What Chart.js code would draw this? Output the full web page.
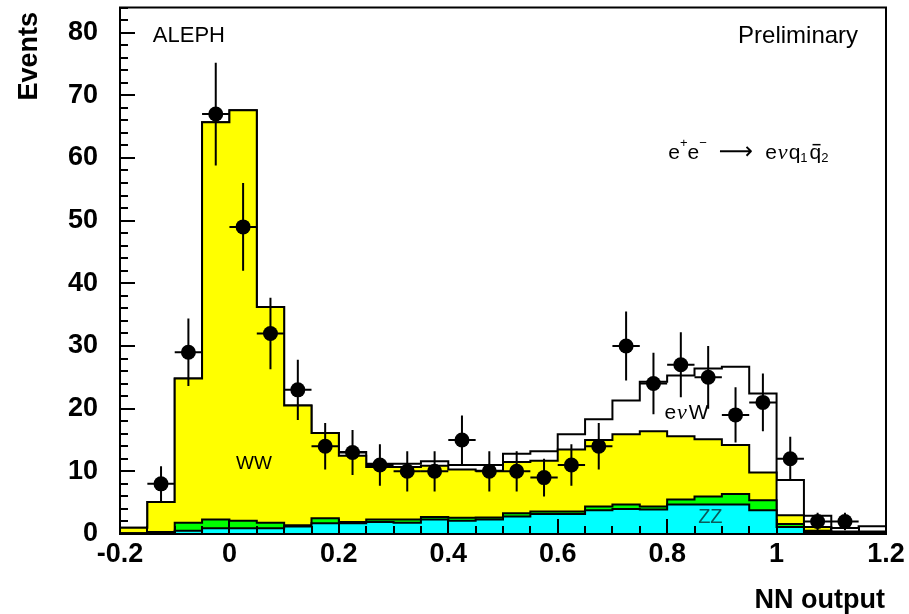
<!DOCTYPE html>
<html><head><meta charset="utf-8">
<script src="https://cdn.jsdelivr.net/npm/chart.js@4/dist/chart.umd.min.js"></script>
<style>html,body{margin:0;padding:0;background:#fff}#wrap{width:909px;height:614px;position:relative}</style>
</head><body><div id="wrap"><canvas id="c"></canvas></div>
<script>
// bin edges of the NN output histogram
const binEdges = [-0.2,-0.15,-0.1,-0.05,0,0.05,0.1,0.15,0.2,0.25,0.3,0.35,0.4,0.45,0.5,0.55,0.6,0.65,0.7,0.75,0.8,0.85,0.9,0.95,1.0,1.05,1.1,1.15,1.2];
// stacked Monte Carlo contributions per bin
const zz    = [0.1,0.2,0.5,0.9,0.9,0.9,1.2,1.7,1.7,1.9,1.8,2.3,2.1,2.3,2.8,3.2,3.2,3.8,4.0,3.9,4.7,4.7,4.7,3.8,1.1,0.3,0.1,0.1];
const other = [0.0,0.1,1.3,1.4,1.2,0.9,0.2,0.8,0.2,0.4,0.5,0.4,0.5,0.35,0.5,0.4,0.4,0.6,0.7,0.5,0.8,1.3,1.7,1.6,0.5,0.2,0.1,0.1];
const ww    = [0.9,4.8,23.0,63.4,65.5,34.4,19.1,13.6,10.6,8.4,8.4,8.2,7.7,7.45,8.2,8.1,9.9,10.6,11.2,12.0,10.1,9.1,7.8,4.4,1.4,0.6,0.2,0.2];
const evw   = [0,0,0,0,0,0,0,0,0.6,0.5,0.5,0.7,0.7,0.9,1.3,1.5,2.4,3.3,5.4,7.9,9.7,11.3,12.5,12.6,5.6,1.8,0.55,0.85];
// data
const dataCounts = [null,8,29,67,49,32,23,14,13,11,10,10,15,10,10,9,11,14,30,24,27,25,19,21,12,2,2,null];
const dataErrors = [null,2.8,5.4,8.2,7.0,5.7,4.8,3.7,3.6,3.3,3.2,3.2,3.9,3.2,3.2,3.0,3.3,3.7,5.5,4.9,5.2,5.0,4.4,4.6,3.5,1.4,1.4,null];
const xTickLabels = ['-0.2','0','0.2','0.4','0.6','0.8','1','1.2'];
const yTickLabels = ['0','10','20','30','40','50','60','70','80'];

function cumulative(layers){
  return binEdges.slice(0,-1).map((_,i)=>layers.reduce((s,a)=>s+a[i],0));
}
function stepPoints(vals){
  const pts = vals.map((v,i)=>({x:binEdges[i], y:v}));
  pts.push({x:binEdges[binEdges.length-1], y:vals[vals.length-1]});
  return pts;
}
const cZZ = cumulative([zz]);
const cOther = cumulative([zz,other]);
const cWW = cumulative([zz,other,ww]);
const cTot = cumulative([zz,other,ww,evw]);
const centers = binEdges.slice(0,-1).map((e,i)=>(e+binEdges[i+1])/2);
const dataPts = centers.map((x,i)=>dataCounts[i]==null?null:{x:x,y:dataCounts[i]}).filter(p=>p);

function layer(label, vals, color, order){
  return {type:'line', label, data:stepPoints(vals), stepped:'before', fill:'origin',
    backgroundColor:color, borderColor:'#000', borderWidth:2, pointRadius:0, order};
}

const FONT = '"Liberation Sans", Arial, Helvetica, sans-serif';

const decor = {
  id:'decor',
  afterDatasetsDraw(chart){
    const {ctx, chartArea:a, scales:{x,y}} = chart;
    ctx.save();
    // error bars
    ctx.strokeStyle='#000'; ctx.lineWidth=2;
    for(let i=0;i<dataCounts.length;i++){
      const n=dataCounts[i]; if(n==null) continue;
      const px=x.getPixelForValue(centers[i]);
      ctx.beginPath();
      ctx.moveTo(px,y.getPixelForValue(n-dataErrors[i]));
      ctx.lineTo(px,y.getPixelForValue(n+dataErrors[i]));
      ctx.moveTo(x.getPixelForValue(binEdges[i]),y.getPixelForValue(n));
      ctx.lineTo(x.getPixelForValue(binEdges[i+1]),y.getPixelForValue(n));
      ctx.stroke();
    }
    // inward ticks
    ctx.lineWidth=2;
    ctx.beginPath();
    for(let k=0;k<=42;k++){
      const v=k*2; const py=Math.round(y.getPixelForValue(v));
      const len = (v%10===0)?15:8;
      ctx.moveTo(a.left,py); ctx.lineTo(a.left+len,py);
    }
    for(let k=0;k<=28;k++){
      const v=-0.2+k*0.05; const px=Math.round(x.getPixelForValue(v));
      const len=(k%4===0)?15:8;
      ctx.moveTo(px,a.bottom); ctx.lineTo(px,a.bottom-len);
    }
    ctx.stroke();
    // frame
    ctx.strokeRect(a.left,a.top,a.right-a.left,a.bottom-a.top);
    // texts
    ctx.fillStyle='#000';
    ctx.textBaseline='middle';
    ctx.font='22px '+FONT;
    ctx.textAlign='left';
    ctx.fillText('ALEPH', x.getPixelForValue(-0.14), y.getPixelForValue(79.4));
    ctx.textAlign='right';
    ctx.font='24px '+FONT;
    ctx.fillText('Preliminary', x.getPixelForValue(1.149), y.getPixelForValue(79.4));
    ctx.textAlign='center';
    ctx.font='19px '+FONT;
    ctx.fillText('WW', x.getPixelForValue(0.045), y.getPixelForValue(11.2));
    // e nu W
    {
      let px=x.getPixelForValue(0.795), py=y.getPixelForValue(19.3);
      ctx.textAlign='left';
      ctx.font='21px '+FONT; ctx.fillText('e',px,py); px+=ctx.measureText('e').width+1;
      ctx.font='italic 22px "Liberation Serif", serif'; ctx.fillText('ν',px,py); px+=ctx.measureText('ν').width+2;
      ctx.font='21px '+FONT; ctx.fillText('W',px,py);
    }
    ctx.fillStyle='#0b5a5a';
    ctx.textAlign='center';
    ctx.font='20px '+FONT;
    ctx.fillText('ZZ', x.getPixelForValue(0.879), y.getPixelForValue(2.7));
    // reaction formula
    ctx.fillStyle='#000';
    {
      let px=x.getPixelForValue(0.802), py=y.getPixelForValue(60.8);
      ctx.textAlign='left';
      const big='21px '+FONT, small='13px '+FONT;
      const put=(t,f,dy,gap)=>{ctx.font=f; ctx.fillText(t,px,py+dy); px+=ctx.measureText(t).width+(gap||0);};
      put('e',big,0); put('+',small,-9);
      put('e',big,0); put('−',small,-9,12);
      ctx.font='24px "DejaVu Sans", sans-serif'; ctx.fillText('⟶',px,py); px+=ctx.measureText('⟶').width+12;
      put('e',big,0,1);
      put('ν','italic 22px "Liberation Serif", serif',0,1);
      put('q',big,0); put('1',small,6,2);
      const qx=px; put('q',big,0);
      ctx.fillRect(qx+3, py-9, 8, 1.5);
      put('2',small,6);
    }
    // axis titles
    ctx.font='bold 27px '+FONT;
    ctx.textAlign='right'; ctx.textBaseline='alphabetic';
    ctx.fillText('NN output', 885, 608);
    ctx.translate(37,12); ctx.rotate(-Math.PI/2);
    ctx.textAlign='right';
    ctx.fillText('Events',0,0);
    ctx.restore();
  }
};

new Chart(document.getElementById('c'), {
  data:{datasets:[
    {type:'scatter', label:'Data', data:dataPts, pointRadius:7.5, pointHoverRadius:7.5, backgroundColor:'#000', borderWidth:0, order:0},
    layer('ZZ', cZZ, '#00ffff', 1),
    layer('other', cOther, '#00ff00', 2),
    layer('WW', cWW, '#ffff00', 3),
    layer('eνW', cTot, '#ffffff', 4)
  ]},
  options:{
    responsive:true, maintainAspectRatio:false, animation:false,
    layout:{padding:{top:1,right:23,left:0,bottom:0}},
    plugins:{legend:{display:false}, tooltip:{enabled:false}},
    scales:{
      x:{type:'linear', min:-0.2, max:1.2,
        afterBuildTicks:s=>{s.ticks=xTickLabels.map(t=>({value:parseFloat(t)}));},
        afterFit:s=>{s.height=80; s.paddingLeft=0; s.paddingRight=0;},
        grid:{display:false, drawTicks:false}, border:{display:false},
        ticks:{autoSkip:false, maxRotation:0, padding:4, color:'#000', font:{family:FONT, weight:'bold', size:27},
          callback:(v)=>{const i=xTickLabels.findIndex(t=>Math.abs(parseFloat(t)-v)<1e-6); return i>=0?xTickLabels[i]:'';}}},
      y:{type:'linear', min:0, max:84,
        afterBuildTicks:s=>{s.ticks=yTickLabels.map(t=>({value:parseFloat(t)}));},
        afterFit:s=>{s.width=120; s.paddingTop=0; s.paddingBottom=0;},
        grid:{display:false, drawTicks:false}, border:{display:false},
        ticks:{autoSkip:false, padding:22, color:'#000', font:{family:FONT, weight:'bold', size:27},
          callback:(v)=>{const i=yTickLabels.findIndex(t=>parseFloat(t)===v); return i>=0?yTickLabels[i]:'';}}}
    }
  },
  plugins:[decor]
});
</script></body></html>
